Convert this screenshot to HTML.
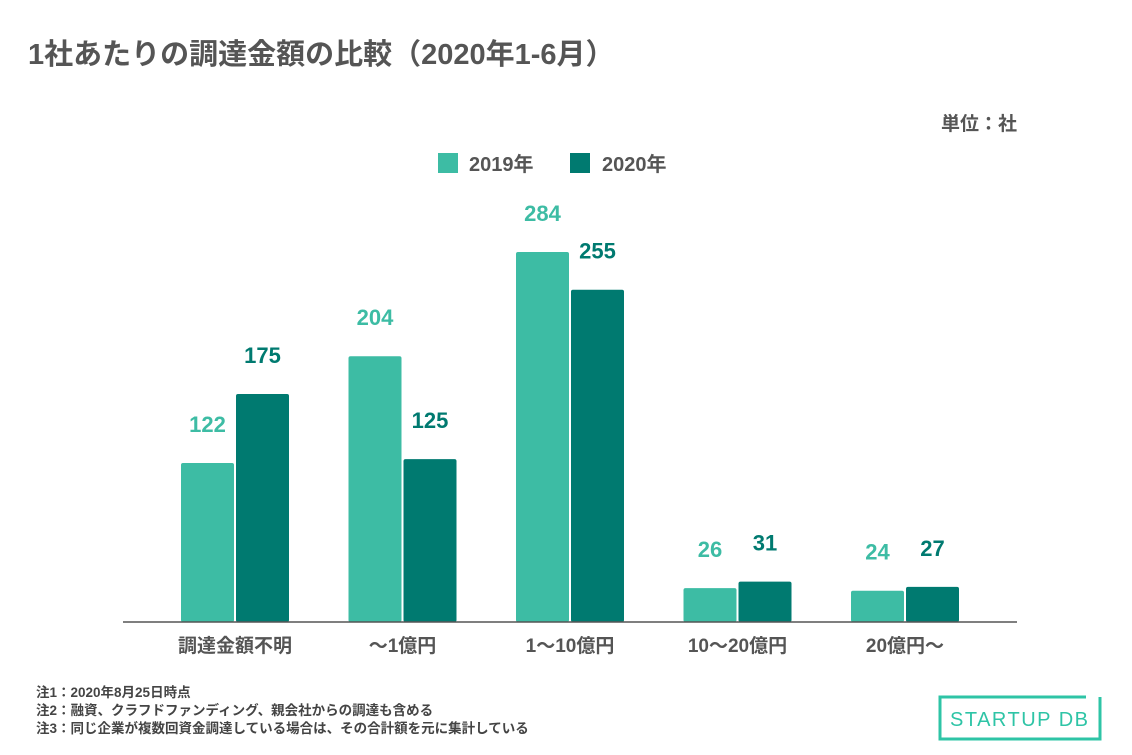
<!DOCTYPE html>
<html><head><meta charset="utf-8"><style>
body{margin:0;background:#fff;font-family:"Liberation Sans","Noto Sans CJK JP",sans-serif;}
#wrap{position:relative;width:1132px;height:755px;overflow:hidden;}
</style></head><body>
<div id="wrap">
<svg id="chart" width="1132" height="755" style="position:absolute;left:0;top:0;font-family:'Liberation Sans','Noto Sans CJK JP',sans-serif">
<text x="28" y="64" font-size="29" font-weight="bold" fill="#555">1社あたりの調達金額の比較（2020年1-6月）</text>
<text x="1017" y="130" font-size="19" font-weight="bold" fill="#555" text-anchor="end">単位：社</text>
<g>
<rect x="438" y="153" width="20" height="20" fill="#3dbca4"/>
<text x="469" y="171" font-size="20" font-weight="bold" fill="#555">2019年</text>
<rect x="570" y="153" width="20" height="20" fill="#007a70"/>
<text x="602" y="171" font-size="20" font-weight="bold" fill="#555">2020年</text>
</g>
<g id="bars"></g>
<line x1="123" y1="622" x2="1017" y2="622" stroke="#555" stroke-width="1.5"/>
<g font-size="13.5" font-weight="bold" fill="#444">
<text x="36" y="697">注1：2020年8月25日時点</text>
<text x="36" y="715">注2：融資、クラフドファンディング、親会社からの調達も含める</text>
<text x="36" y="733">注3：同じ企業が複数回資金調達している場合は、その合計額を元に集計している</text>
</g>
<g>
<path d="M1086 697 L940 697 L940 739 L1100 739 L1100 697" fill="none" stroke="#2ec4a6" stroke-width="3"/>
<text x="950" y="726" font-size="20" fill="#2ec4a6" textLength="138" lengthAdjust="spacing">STARTUP DB</text>
</g>
</svg>
<script>
const categories=["調達金額不明","〜1億円","1〜10億円","10〜20億円","20億円〜"];
const values2019=[122,204,284,26,24];
const values2020=[175,125,255,31,27];
const NS="http://www.w3.org/2000/svg";
const g=document.getElementById('bars');
const base=622, scale=1.303;
function xCenter(i){return 235+i*167.5;}
function yPos(v){return base-v*scale;}
function mk(tag,attrs){const e=document.createElementNS(NS,tag);for(const k in attrs)e.setAttribute(k,attrs[k]);g.appendChild(e);return e;}
categories.forEach((c,i)=>{
  const cx=xCenter(i);
  [[values2019,'#3dbca4',-54,'2019'],[values2020,'#007a70',1,'2020']].forEach(([arr,col,off,yr])=>{
    const v=arr[i], y=yPos(v);
    const r=mk('rect',{x:cx+off,y:y,width:53,height:base-y,fill:col,rx:2});
    
    
    const t=mk('text',{x:cx+off+26.5,y:y-31,'font-size':22,'font-weight':'bold',fill:col,'text-anchor':'middle'});
    t.textContent=v;
    
    
  });
  const l=mk('text',{x:cx,y:652,'font-size':19,'font-weight':'bold',fill:'#555','text-anchor':'middle'});
  l.textContent=c;
  
  
});
</script>
</div>
</body></html>
